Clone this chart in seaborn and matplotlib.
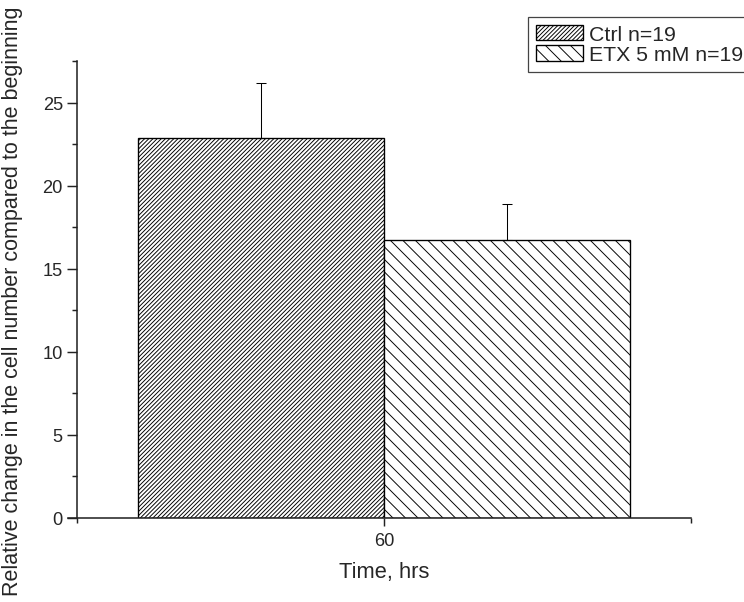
import matplotlib
matplotlib.use("Agg")
import matplotlib.pyplot as plt
from matplotlib.ticker import MultipleLocator, FixedLocator
import seaborn as sns
import pandas as pd

# Cell growth after 60 h, control vs ethosuximide
time_labels = ["60", "60"]
groups = ["Ctrl n=19", "ETX 5 mM n=19"]
means = [22.85, 16.7]
sems = [3.35, 2.2]
hatches = ["//////", "\\\\"]

df = pd.DataFrame({"Time, hrs": time_labels, "Group": groups, "Value": means})

sns.set_style("ticks")
plt.rcParams["font.family"] = ["Liberation Sans", "DejaVu Sans"]
plt.rcParams["hatch.linewidth"] = 0.9

DPI = 75
fig = plt.figure(figsize=(744 / DPI, 603 / DPI), dpi=DPI)
ax = fig.add_axes([68 / 744, (603 - 519) / 603, (691 - 68) / 744, (519 - 62) / 603])

sns.barplot(data=df, x="Time, hrs", y="Value", hue="Group", hue_order=groups,
            palette=["white", "white"], edgecolor="black", linewidth=1.3,
            errorbar=None, width=0.8, saturation=1, legend=False, ax=ax)

for container, h, m, e in zip(ax.containers, hatches, means, sems):
    for bar in container:
        bar.set_hatch(h)
        bar.set_facecolor("white")
        bar.set_edgecolor("black")
        cx = bar.get_x() + bar.get_width() / 2
        ax.errorbar(cx, m, yerr=[[0], [e]], fmt="none", ecolor="black",
                    elinewidth=1.0, capsize=4.6, capthick=1.0, zorder=1)

ax.set_ylim(0, 27.5)
ax.set_xlim(-0.5146, 0.5)
ax.yaxis.set_major_locator(MultipleLocator(5))
ax.yaxis.set_minor_locator(MultipleLocator(2.5))
ax.xaxis.set_minor_locator(FixedLocator([-0.5, 0.5]))

sns.despine(ax=ax)
ax.spines["left"].set_position(("data", -0.5))
for side in ("left", "bottom"):
    ax.spines[side].set_linewidth(1.5)
    ax.spines[side].set_color("#222222")

ax.tick_params(axis="both", which="major", length=9.5, width=1.4,
               color="#222222", labelsize=17.5, pad=4)
ax.tick_params(axis="both", which="minor", length=4.8, width=1.4, color="#222222")
ax.tick_params(axis="x", which="major", length=7.5, pad=6)

ax.set_xlabel("Time, hrs", fontsize=21, va="center")
ax.set_ylabel("Relative change in the cell number compared to the beginning",
              fontsize=20.7, va="center")
ax.xaxis.set_label_coords(0.507, -0.118)
ax.yaxis.set_label_coords(-0.0883, 0.477)

handles = [ax.containers[0], ax.containers[1]]
leg = fig.legend(handles, groups, loc="upper left",
                 bbox_to_anchor=(528 / 744, 1 - 18 / 603),
                 bbox_transform=fig.transFigure, borderaxespad=0,
                 fontsize=20.4, handlelength=2.2, handleheight=0.72,
                 handletextpad=0.28, labelspacing=0.06, borderpad=0.38,
                 fancybox=False, framealpha=1, edgecolor="#444444")
leg.get_frame().set_linewidth(1.2)

fig.savefig("out.png", dpi=DPI)
